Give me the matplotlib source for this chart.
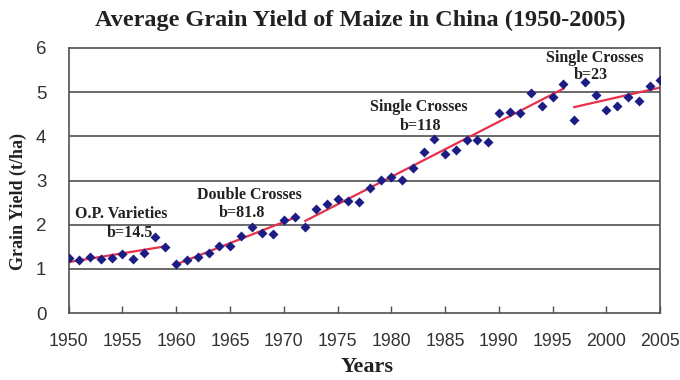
import numpy as np
import matplotlib
matplotlib.use("Agg")
import matplotlib.pyplot as plt

# yearly average maize grain yield, t/ha
years = np.arange(1950, 2006)
yield_t = [1.24, 1.20, 1.27, 1.22, 1.25, 1.34, 1.23, 1.36, 1.72, 1.50,
           1.10, 1.20, 1.28, 1.36, 1.51, 1.52, 1.75, 1.95, 1.82, 1.80,
           2.11, 2.17, 1.95, 2.35, 2.47, 2.58, 2.54, 2.51, 2.83, 3.01,
           3.08, 3.02, 3.28, 3.64, 3.95, 3.60, 3.70, 3.92, 3.91, 3.88,
           4.53, 4.55, 4.52, 4.97, 4.69, 4.90, 5.18, 4.37, 5.23, 4.94,
           4.60, 4.69, 4.90, 4.80, 5.13, 5.27]

# breeding eras (first year, last year) and their labels
eras = [(1950, 1959), (1960, 1971), (1972, 1996), (1997, 2005)]
era_names = ["O.P. Varieties", "Double Crosses", "Single Crosses", "Single Crosses"]
era_b = ["b=14.5", "b=81.8", "b=118", "b=23"]
name_pos = [(1954.9, 2.24), (1966.8, 2.67), (1982.5, 4.66), (1998.9, 5.77)]
b_pos = [(1955.7, 1.81), (1966.1, 2.26), (1982.7, 4.23), (1998.5, 5.38)]

serif = "Liberation Serif"
yield_t = np.array(yield_t)

fig = plt.figure(figsize=(6.8, 3.8), dpi=100)
ax = fig.add_axes([0.101, 0.176, 0.870, 0.698])

for y in range(1, 6):
    ax.axhline(y, color="#505050", lw=1.2, zorder=1)

# linear trend for each era
for (a, b) in eras:
    m = (years >= a) & (years <= b)
    k, c = np.polyfit(years[m], yield_t[m], 1)
    xs = np.array([a, b])
    ax.plot(xs, k * xs + c, color="#e8304a", lw=1.6, zorder=2)

ax.scatter(years, yield_t, marker="D", s=26, color="#1c1c85", zorder=3, linewidths=0)

for name, b, p1, p2 in zip(era_names, era_b, name_pos, b_pos):
    ax.text(p1[0], p1[1], name, family=serif, weight="bold", fontsize=11.5,
            color="#222222", ha="center", va="center", zorder=4)
    ax.text(p2[0], p2[1], b, family=serif, weight="bold", fontsize=11.5,
            color="#222222", ha="center", va="center", zorder=4)

ax.set_xlim(1950, 2005)
ax.set_ylim(0, 6)
ax.set_xticks(np.arange(1950, 2006, 5))
ax.set_yticks(range(0, 7))
ax.tick_params(axis="x", direction="in", length=5, width=1, color="#505050",
               pad=14, labelsize=12.8, labelcolor="#333333")
ax.tick_params(axis="y", length=0, pad=16, labelsize=13.5, labelcolor="#333333")
for lab in ax.get_xticklabels() + ax.get_yticklabels():
    lab.set_family("Liberation Sans")
for s in ax.spines.values():
    s.set_color("#505050")
    s.set_linewidth(1.2)

fig.text(0.53, 0.947, "Average Grain Yield of Maize in China (1950-2005)",
         family=serif, weight="bold", fontsize=17.5, color="#222222",
         ha="center", va="center")
fig.text(0.027, 0.47, "Grain Yield (t/ha)", family=serif, weight="bold",
         fontsize=13, color="#222222", rotation=90, ha="center", va="center")
fig.text(0.54, 0.008, "Years", family=serif, weight="bold", fontsize=16,
         color="#222222", ha="center", va="bottom")

fig.savefig("out.png", dpi=100, facecolor="white")
